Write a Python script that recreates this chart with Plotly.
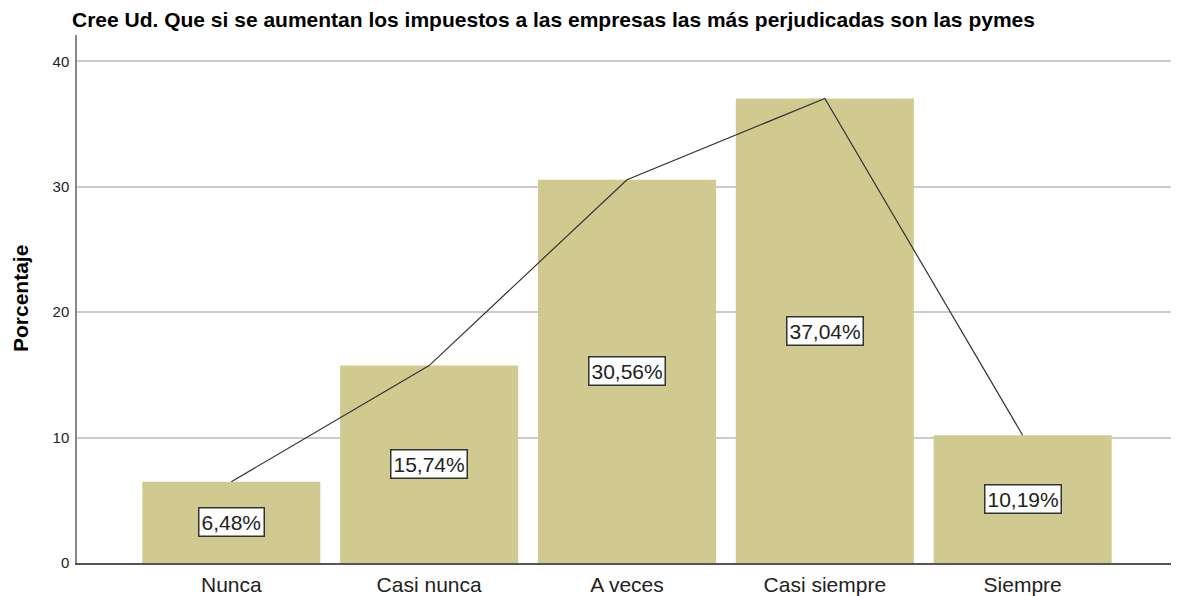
import plotly.graph_objects as go

categories = ["Nunca", "Casi nunca", "A veces", "Casi siempre", "Siempre"]
percentages = [6.48, 15.74, 30.56, 37.04, 10.19]
labels = ["6,48%", "15,74%", "30,56%", "37,04%", "10,19%"]
y_ticks = [0, 10, 20, 30, 40]

FONT = "Liberation Sans, Arial, sans-serif"
x_idx = list(range(len(categories)))

# page has an 8px body margin, so the figure is sized to fit the window
W, H = 1171, 588
L, R, T, B = 69, 4, 27, 33
PW = W - L - R

fig = go.Figure()
fig.add_trace(go.Bar(
    x=x_idx, y=percentages, width=0.9,
    marker=dict(color="#D0CA90", line=dict(width=0)),
    hoverinfo="skip", showlegend=False,
))
fig.add_trace(go.Scatter(
    x=x_idx, y=percentages, mode="lines",
    line=dict(color="#333333", width=1.2),
    hoverinfo="skip", showlegend=False,
))

for xi, v, lab in zip(x_idx, percentages, labels):
    fig.add_annotation(
        x=xi, y=v / 2, text=lab, showarrow=False,
        font=dict(family=FONT, size=21, color="#222222"),
        bgcolor="white", bordercolor="#333333", borderwidth=1.5, borderpad=2,
    )

# y-axis title as rotated annotation
fig.add_annotation(
    xref="paper", yref="paper", x=(12 - L) / PW, y=0.5,
    text="<b>Porcentaje</b>", textangle=-90, showarrow=False,
    font=dict(family=FONT, size=21, color="#000000"),
    xanchor="center", yanchor="middle",
)

fig.update_layout(
    width=W, height=H,
    margin=dict(l=L, r=R, t=T, b=B),
    paper_bgcolor="white", plot_bgcolor="white",
    font=dict(family=FONT, color="#222222"),
    title=dict(
        text="<b>Cree Ud. Que si se aumentan los impuestos a las empresas las más perjudicadas son las pymes</b>",
        font=dict(family=FONT, size=21, color="#000000"),
        xref="container", x=64 / W, xanchor="left",
        yref="container", y=1 - 4 / H, yanchor="top",
        pad=dict(l=0, r=0, t=0, b=0),
    ),
    bargap=0.1,
)
fig.update_xaxes(
    range=[-0.78, 4.77],
    tickmode="array", tickvals=x_idx, ticktext=categories,
    tickfont=dict(family=FONT, size=21, color="#222222"),
    showgrid=False, zeroline=False,
    showline=True, linecolor="#555555", linewidth=1.5,
    ticks="outside", ticklen=2, tickcolor="rgba(0,0,0,0)",
    automargin=False,
)
fig.update_yaxes(
    range=[0, 42.1],
    tickmode="array", tickvals=y_ticks,
    tickfont=dict(family=FONT, size=15, color="#222222"),
    showgrid=True, gridcolor="#CCCCCC", gridwidth=1.5,
    zeroline=False,
    showline=True, linecolor="#888888", linewidth=1.5,
    ticks="outside", ticklen=3, tickcolor="rgba(0,0,0,0)",
    automargin=False,
)

fig.write_html("out.html")
